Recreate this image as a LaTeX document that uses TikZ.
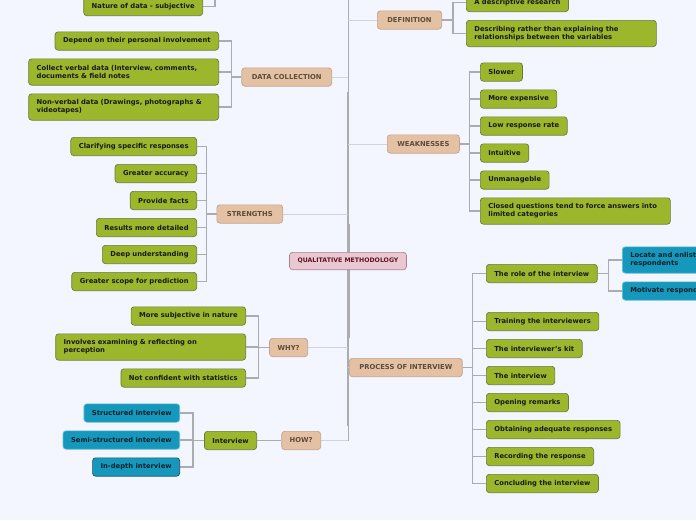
\documentclass[tikz,border=0pt]{standalone}
\usepackage{fontspec}
\setmainfont{DejaVu Sans}
\usepackage{xcolor}
\usetikzlibrary{positioning,backgrounds}
\definecolor{bgpage}{RGB}{243,246,254}
\definecolor{leaf}{RGB}{157,183,45}
\definecolor{leafline}{RGB}{110,122,60}
\definecolor{topic}{RGB}{229,193,163}
\definecolor{topicline}{RGB}{192,164,140}
\definecolor{topictext}{RGB}{92,76,62}
\definecolor{rootfill}{RGB}{233,201,209}
\definecolor{rootline}{RGB}{178,128,140}
\definecolor{roottext}{RGB}{98,18,38}
\definecolor{sub}{RGB}{22,152,188}
\definecolor{subline}{RGB}{96,186,212}
\definecolor{subdark}{RGB}{22,84,104}
\definecolor{subtext}{RGB}{12,32,42}
\definecolor{wiregray}{RGB}{172,172,176}
\definecolor{twiggray}{RGB}{210,210,220}

\begin{document}
\begin{tikzpicture}[x=1pt, y=-1pt,
  leafbox/.style={draw=leafline, fill=leaf, line width=0.7pt, rounded corners=3pt, minimum height=18.3pt, inner xsep=8pt, inner ysep=2pt, text=black!90, font=\bfseries\fontsize{6.8}{8}\selectfont},
  twoline/.style={leafbox, text width=174pt, align=left, minimum height=26.3pt},
  subbox/.style={leafbox, draw=subline, fill=sub, text=subtext},
  subwide/.style={twoline, draw=subline, fill=sub, text=subtext},
  topicbox/.style={draw=topicline, fill=topic, line width=0.7pt, rounded corners=3pt, minimum height=18.3pt, inner xsep=10pt, text=topictext, font=\bfseries\fontsize{6.8}{8}\selectfont},
  rootbox/.style={draw=rootline, fill=rootfill, line width=0.7pt, rounded corners=3pt, minimum height=17.3pt, inner xsep=8pt, text=roottext, font=\bfseries\fontsize{6.2}{8}\selectfont},
  wire/.style={draw=wiregray, line width=1.3pt},
  twig/.style={draw=twiggray, line width=1pt},
  trunkline/.style={draw=wiregray}]
  \useasboundingbox (0,0) rectangle (696,520);

  % root and main branches
  \node[rootbox] (root) at (348,261) {QUALITATIVE METHODOLOGY};
  \node[topicbox, anchor=west] (def) at (377,20) {DEFINITION};
  \node[topicbox, anchor=east] (dc) at (332,77) {DATA COLLECTION};
  \node[topicbox, anchor=west] (wk) at (387,144) {WEAKNESSES};
  \node[topicbox, anchor=east] (st) at (283,214) {STRENGTHS};
  \node[topicbox, inner xsep=8pt, anchor=east] (why) at (308,347.5) {WHY?};
  \node[topicbox, anchor=west] (pi) at (349,367.5) {PROCESS OF INTERVIEW};
  \node[topicbox, inner xsep=8pt, anchor=east] (how) at (321,440.5) {HOW?};
  \coordinate (top) at (348,-20);

  % definition
  \node[leafbox, anchor=west] (df1) at (466,2.5) {A descriptive research};
  \node[twoline, below right=8pt and 0pt of df1.south west] (df2) {Describing rather than explaining the\\relationships between the variables};

  % upper branch, cut by the page edge
  \node[leafbox, anchor=east] (nat) at (203,6.5) {Nature of data - subjective};
  \coordinate (natup) at (215,-20);

  % data collection
  \node[leafbox, anchor=east] (dc1) at (219,41) {Depend on their personal involvement};
  \node[twoline, below left=8pt and 0pt of dc1.south east] (dc2) {Collect verbal data (Interview, comments,\\documents \& field notes};
  \node[twoline, below left=8pt and 0pt of dc2.south east] (dc3) {Non-verbal data (Drawings, photographs \&\\videotapes)};

  % weaknesses
  \node[leafbox, anchor=west] (wk1) at (480,72) {Slower};
  \node[leafbox, below right=8pt and 0pt of wk1.south west] (wk2) {More expensive};
  \node[leafbox, below right=8pt and 0pt of wk2.south west] (wk3) {Low response rate};
  \node[leafbox, below right=8pt and 0pt of wk3.south west] (wk4) {Intuitive};
  \node[leafbox, below right=8pt and 0pt of wk4.south west] (wk5) {Unmanageble};
  \node[twoline, below right=8pt and 0pt of wk5.south west] (wk6) {Closed questions tend to force answers into\\limited categories};

  % strengths
  \node[leafbox, anchor=east] (st1) at (197,146.5) {Clarifying specific responses};
  \node[leafbox, below left=8pt and 0pt of st1.south east] (st2) {Greater accuracy};
  \node[leafbox, below left=8pt and 0pt of st2.south east] (st3) {Provide facts};
  \node[leafbox, below left=8pt and 0pt of st3.south east] (st4) {Results more detailed};
  \node[leafbox, below left=8pt and 0pt of st4.south east] (st5) {Deep understanding};
  \node[leafbox, below left=8pt and 0pt of st5.south east] (st6) {Greater scope for prediction};

  % why
  \node[leafbox, anchor=east] (wy1) at (246,316) {More subjective in nature};
  \node[twoline, below left=8pt and 0pt of wy1.south east] (wy2) {Involves examining \& reflecting on\\perception};
  \node[leafbox, below left=8pt and 0pt of wy2.south east] (wy3) {Not confident with statistics};

  % how
  \node[leafbox, anchor=east] (iv) at (257,440.5) {Interview};
  \node[subbox, anchor=east] (iv1) at (180,413) {Structured interview};
  \node[subbox, below left=8pt and 0pt of iv1.south east] (iv2) {Semi-structured interview};
  \node[subbox, draw=subdark, below left=8pt and 0pt of iv2.south east] (iv3) {In-depth interview};

  % process of interview
  \node[leafbox, anchor=west] (pi1) at (486,273.5) {The role of the interview};
  \node[leafbox, below right=29pt and 0pt of pi1.south west] (pi2) {Training the interviewers};
  \node[leafbox, below right=8pt and 0pt of pi2.south west] (pi3) {The interviewer's kit};
  \node[leafbox, below right=8pt and 0pt of pi3.south west] (pi4) {The interview};
  \node[leafbox, below right=8pt and 0pt of pi4.south west] (pi5) {Opening remarks};
  \node[leafbox, below right=8pt and 0pt of pi5.south west] (pi6) {Obtaining adequate responses};
  \node[leafbox, below right=8pt and 0pt of pi6.south west] (pi7) {Recording the response};
  \node[leafbox, below right=8pt and 0pt of pi7.south west] (pi8) {Concluding the interview};
  \node[subwide, anchor=west] (rl1) at (622,260) {Locate and enlist\\respondents};
  \node[subbox, below right=8pt and 0pt of rl1.south west] (rl2) {Motivate respondents};

  \begin{scope}[on background layer]
    \fill[bgpage] (0,0) rectangle (696,520);
    % trunk, thicker round the root
    \draw[trunkline, line width=1pt] (top) -- (root |- how);
    \draw[trunkline, line width=1.6pt, shorten <=15pt, shorten >=15pt] (root |- dc) -- (root |- how);
    \draw[trunkline, line width=2.3pt, shorten <=10pt, shorten >=10pt] (root |- wk) -- (root |- pi);
    \draw[trunkline, line width=3pt, shorten <=10pt, shorten >=10pt] (root |- st) -- (root |- why);
    \foreach \t in {def,dc,wk,st,why,pi,how}
      \draw[twig] (root |- \t) -- (\t);
    % leaves
    \foreach \c in {df1,df2}
      \draw[wire] (def.east) -- ++(11pt,0) |- (\c.west);
    \draw[wire] (nat.east) -| (natup);
    \foreach \c in {dc1,dc2,dc3}
      \draw[wire] (dc.west) -- ++(-10pt,0) |- (\c.east);
    \foreach \c in {wk1,wk2,wk3,wk4,wk5,wk6}
      \draw[wire] (wk.east) -- ++(10pt,0) |- (\c.west);
    \foreach \c in {st1,st2,st3,st4,st5,st6}
      \draw[wire] (st.west) -- ++(-10pt,0) |- (\c.east);
    \foreach \c in {wy1,wy2,wy3}
      \draw[wire] (why.west) -- ++(-11pt,0) |- (\c.east);
    \draw[wire] (how) -- (iv);
    \foreach \c in {iv1,iv2,iv3}
      \draw[wire] (iv.west) -- ++(-11pt,0) |- (\c.east);
    \foreach \c in {pi1,pi2,pi3,pi4,pi5,pi6,pi7,pi8}
      \draw[wire] (pi.east) -- ++(10pt,0) |- (\c.west);
    \foreach \c in {rl1,rl2}
      \draw[wire] (pi1.east) -- ++(11pt,0) |- (\c.west);
  \end{scope}
\end{tikzpicture}
\end{document}
